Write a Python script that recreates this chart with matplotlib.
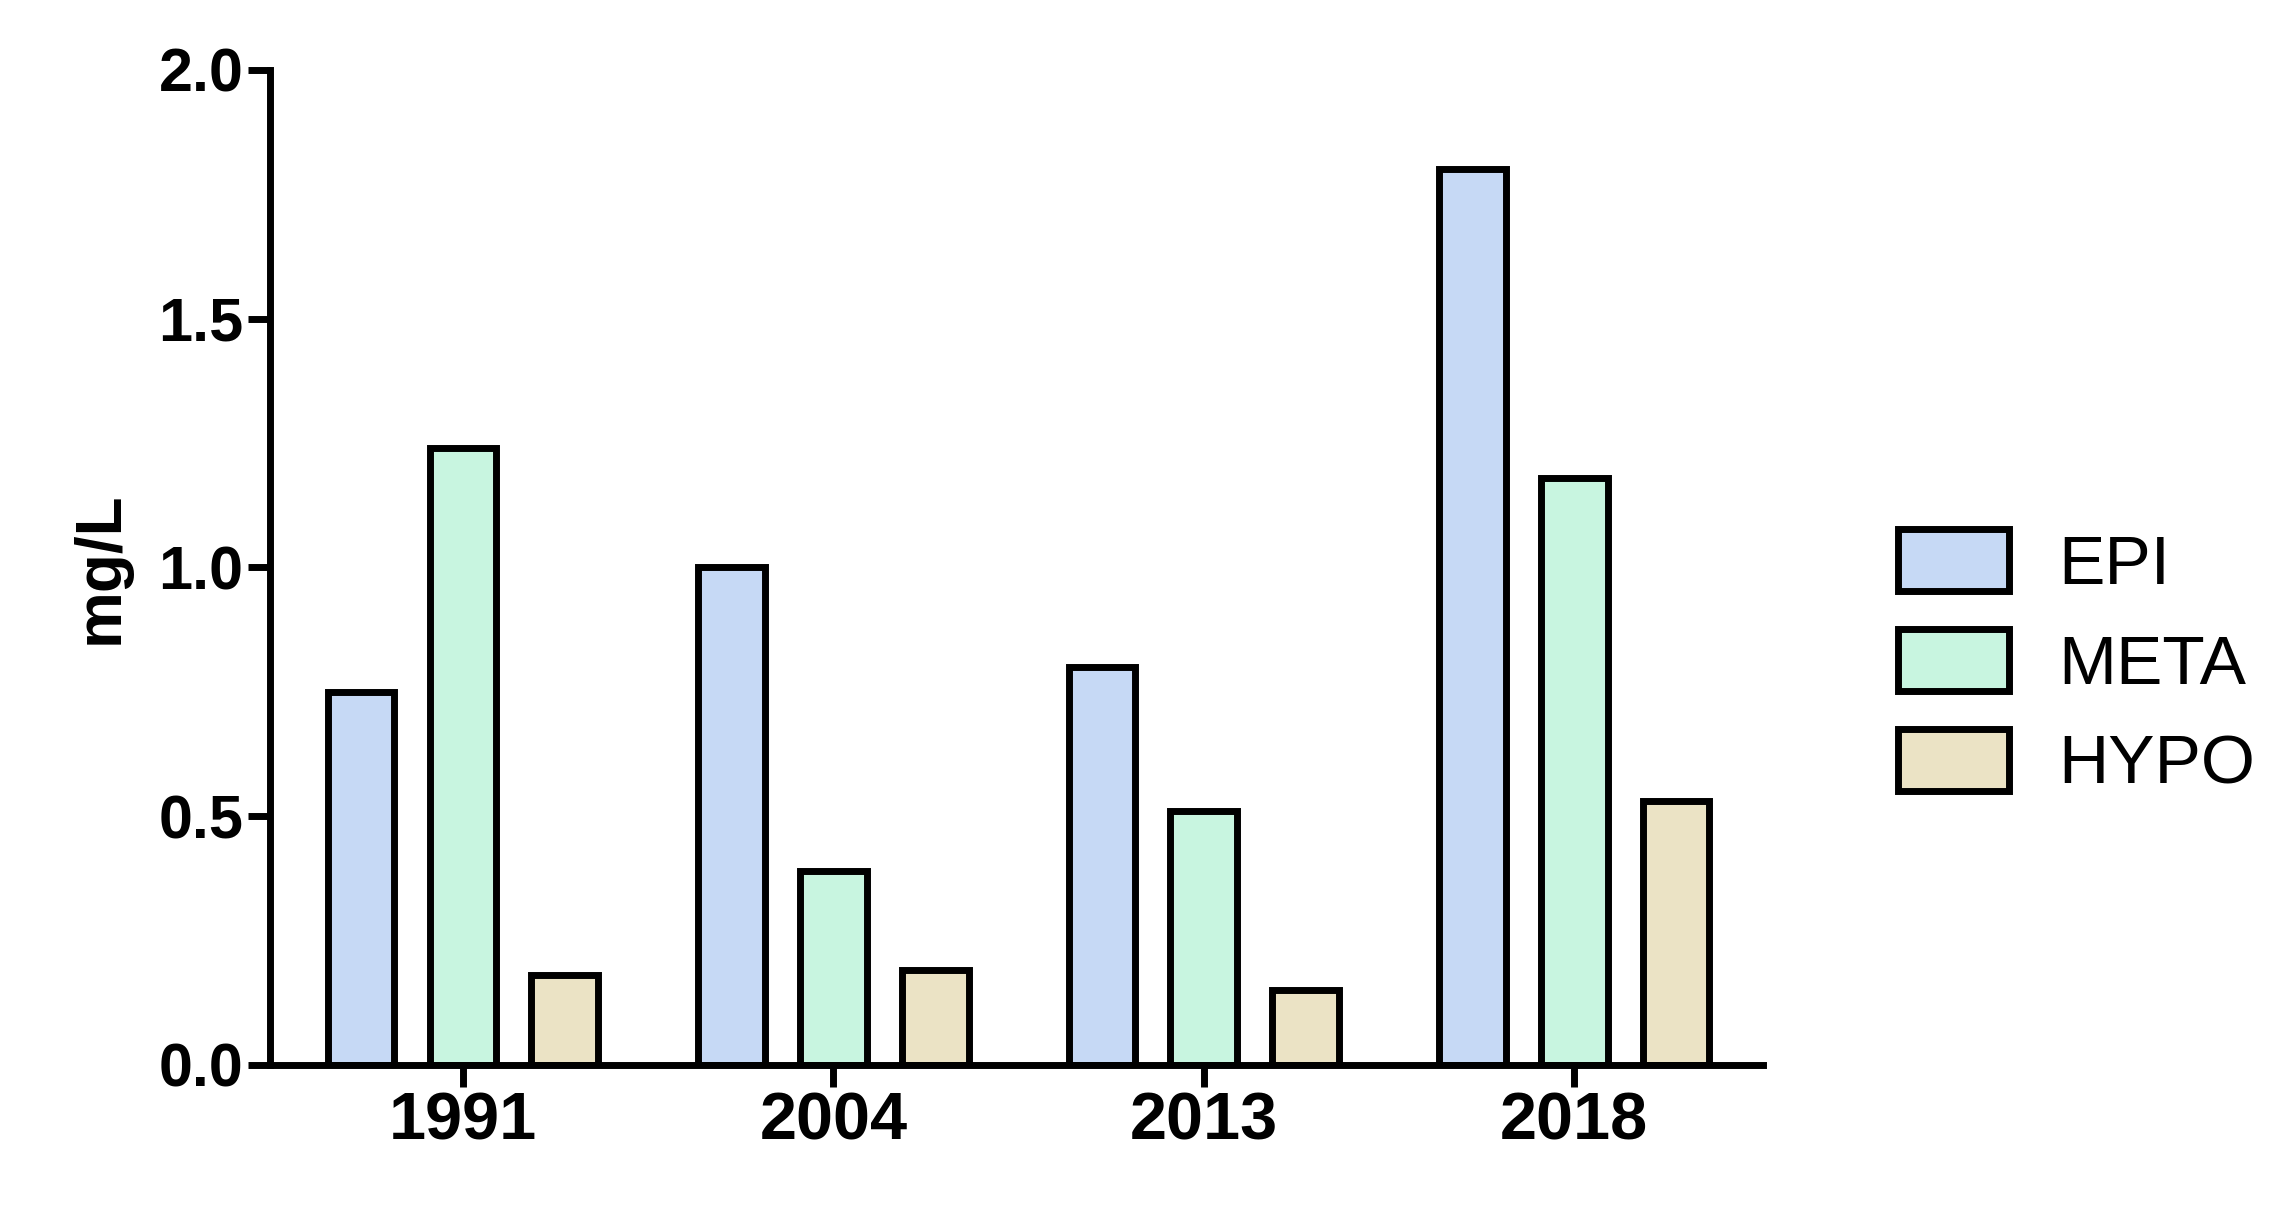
import matplotlib
matplotlib.use("Agg")
import matplotlib.pyplot as plt
import numpy as np

plt.rcParams['font.family'] = ['Liberation Sans', 'DejaVu Sans']

years = ["1991", "2004", "2013", "2018"]
series = ["EPI", "META", "HYPO"]
epi = [0.75, 1.00, 0.80, 1.80]
meta = [1.24, 0.39, 0.51, 1.18]
hypo = [0.18, 0.19, 0.15, 0.53]
colors = ["#c6d9f5", "#c8f5e0", "#ebe3c5"]

fig = plt.figure(figsize=(22.72, 12.06), dpi=100)
ax = fig.add_axes([0.119, 0.117, 0.657, 0.825])
x = np.arange(len(years))
w = 0.18
off = 0.275
for i, (vals, name) in enumerate(zip([epi, meta, hypo], series)):
    ax.bar(x + (i - 1) * off, vals, w, color=colors[i], edgecolor="black",
           linewidth=5, label=name)

ax.set_xlim(-0.52, 3.51)
ax.set_ylim(0, 2.0)
ax.set_yticks([0, 0.5, 1.0, 1.5, 2.0])
ax.set_yticklabels(["0.0", "0.5", "1.0", "1.5", "2.0"])
ax.set_xticks(x)
ax.set_xticklabels(years)
for s in ["top", "right"]:
    ax.spines[s].set_visible(False)
ax.spines["left"].set_linewidth(5)
ax.spines["bottom"].set_linewidth(5)
ax.spines["left"].set_bounds(0, 2.0)
ax.tick_params(axis="both", width=5, length=16)
for lab in ax.get_yticklabels():
    lab.set_fontsize(44); lab.set_fontweight("bold")
for lab in ax.get_xticklabels():
    lab.set_fontsize(48); lab.set_fontweight("bold")
ax.set_ylabel("mg/L", fontsize=46, fontweight="bold", labelpad=20)

fig.legend(loc="center left", bbox_to_anchor=(0.808, 0.45), frameon=False,
           fontsize=50, handlelength=1.6, handleheight=1.0, labelspacing=0.45,
           handletextpad=0.7)
fig.savefig("out.png", dpi=100)
